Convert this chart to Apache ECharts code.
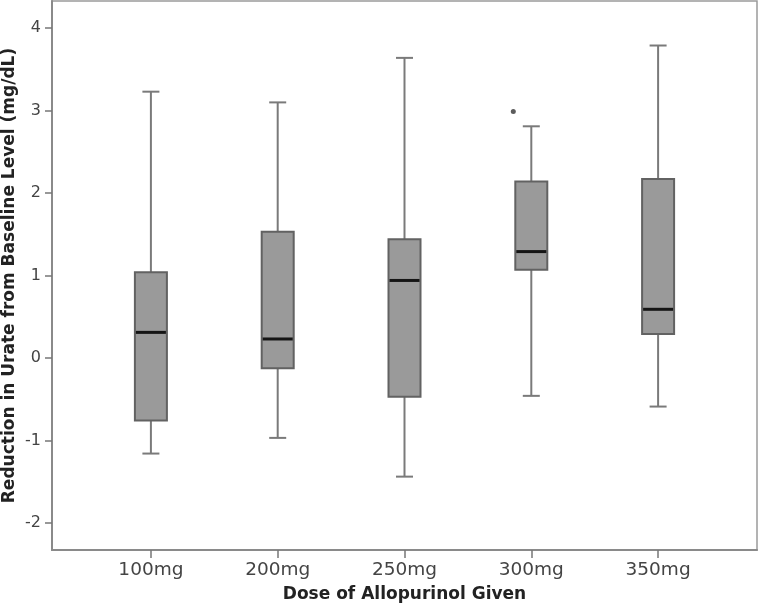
<!DOCTYPE html>
<html>
<head>
<meta charset="utf-8">
<script src="https://cdn.jsdelivr.net/npm/echarts@6/dist/echarts.min.js"></script>
<style>html,body{margin:0;padding:0;background:#fff;}#c{width:760px;height:606px;}</style>
</head>
<body>
<div id="c"></div>
<script>
var categories = ['100mg', '200mg', '250mg', '300mg', '350mg'];
var minVals    = [-1.16, -0.97, -1.44, -0.46, -0.59];
var q1Vals     = [-0.76, -0.125, -0.47, 1.07, 0.29];
var medianVals = [0.31, 0.23, 0.94, 1.29, 0.59];
var q3Vals     = [1.04, 1.53, 1.44, 2.14, 2.17];
var maxVals    = [3.23, 3.10, 3.64, 2.81, 3.79];
var outlierCategoryIndex = [3];
var outlierValues = [2.99];
var yTicks = [-2, -1, 0, 1, 2, 3, 4];
var xTicks = [0, 1, 2, 3, 4];

var boxData = categories.map(function (c, i) {
  return [i, minVals[i], q1Vals[i], medianVals[i], q3Vals[i], maxVals[i]];
});
var outlierData = outlierValues.map(function (v, i) { return [outlierCategoryIndex[i], v]; });

var chart = echarts.init(document.getElementById('c'), null, { renderer: 'canvas' });
var font = 'DejaVu Sans';
chart.setOption({
  backgroundColor: '#fff',
  animation: false,
  grid: {
    left: 52, right: 3, top: 1, bottom: 56,
    outerBoundsMode: 'none', containLabel: false,
    show: true, borderColor: '#9a9a9a', borderWidth: 1.5, backgroundColor: '#fff'
  },
  xAxis: {
    type: 'value', min: -0.78, max: 4.78,
    name: 'Dose of Allopurinol Given', nameLocation: 'middle', nameGap: 36, nameMoveOverlap: false,
    nameTextStyle: { fontFamily: font, fontWeight: 'bold', fontSize: 17, color: '#222' },
    axisLine: { show: true, onZero: false, lineStyle: { color: '#8a8a8a', width: 2 } },
    axisTick: { show: true, length: 8, customValues: xTicks, lineStyle: { color: '#777', width: 1.5 } },
    axisLabel: {
      customValues: xTicks, margin: 11,
      fontFamily: font, fontSize: 18.5, color: '#444',
      formatter: function (v) { return categories[Math.round(v)] || ''; }
    },
    splitLine: { show: false }
  },
  yAxis: {
    type: 'value', min: -2.33, max: 4.33,
    name: 'Reduction in Urate from Baseline Level (mg/dL)', nameLocation: 'middle', nameGap: 34, nameMoveOverlap: false,
    nameTextStyle: { fontFamily: font, fontWeight: 'bold', fontSize: 17, color: '#222' },
    axisLine: { show: true, onZero: false, lineStyle: { color: '#8a8a8a', width: 2 } },
    axisTick: { show: true, length: 7, customValues: yTicks, lineStyle: { color: '#777', width: 1.5 } },
    axisLabel: { customValues: yTicks, margin: 11, fontFamily: font, fontSize: 16, color: '#444' },
    splitLine: { show: false }
  },
  series: [
    {
      type: 'custom',
      data: boxData,
      encode: { x: 0, y: [1, 2, 3, 4, 5] },
      renderItem: function (params, api) {
        var x = api.value(0);
        var lo = api.coord([x, api.value(1)]);
        var q1 = api.coord([x, api.value(2)]);
        var md = api.coord([x, api.value(3)]);
        var q3 = api.coord([x, api.value(4)]);
        var hi = api.coord([x, api.value(5)]);
        var cx = lo[0], hw = 16, cw = 8.5;
        var ws = { stroke: '#7a7a7a', lineWidth: 2 };
        return {
          type: 'group',
          children: [
            { type: 'line', shape: { x1: cx, y1: hi[1], x2: cx, y2: q3[1] }, style: ws },
            { type: 'line', shape: { x1: cx, y1: q1[1], x2: cx, y2: lo[1] }, style: ws },
            { type: 'line', shape: { x1: cx - cw, y1: hi[1], x2: cx + cw, y2: hi[1] }, style: ws },
            { type: 'line', shape: { x1: cx - cw, y1: lo[1], x2: cx + cw, y2: lo[1] }, style: ws },
            { type: 'rect', shape: { x: cx - hw, y: q3[1], width: 2 * hw, height: q1[1] - q3[1] },
              style: { fill: '#9a9a9a', stroke: '#626262', lineWidth: 2 } },
            { type: 'line', shape: { x1: cx - hw + 1, y1: md[1], x2: cx + hw - 1, y2: md[1] },
              style: { stroke: '#151515', lineWidth: 3 } }
          ]
        };
      }
    },
    {
      type: 'scatter',
      data: outlierData,
      symbol: 'circle', symbolSize: 5, symbolOffset: [-18, 0],
      itemStyle: { color: '#333' }
    }
  ]
});
</script>
</body>
</html>
